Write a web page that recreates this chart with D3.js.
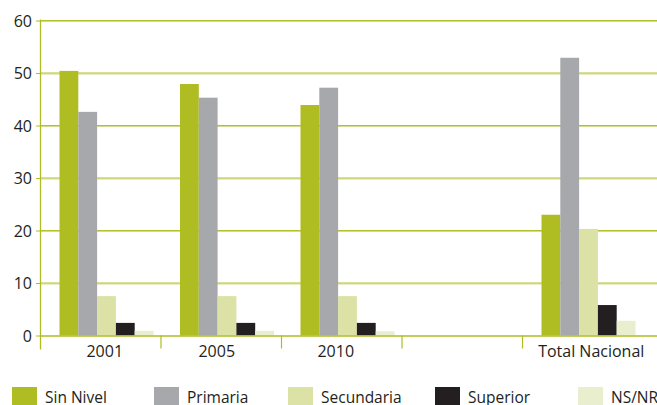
<!DOCTYPE html>
<html>
<head>
<meta charset="utf-8">
<script src="https://cdn.jsdelivr.net/npm/d3@7"></script>
<style>
  body { margin: 0; background: #fff; }
  svg text { font-family: "Open Sans", "Noto Sans", sans-serif; fill: #231f20; }
</style>
</head>
<body>
<div id="chart"></div>
<script>
const categories = ['2001', '2005', '2010', '', 'Total Nacional'];
const series = ['Sin Nivel', 'Primaria', 'Secundaria', 'Superior', 'NS/NR'];
const colors = ['#afbd22', '#a7a8ab', '#dce2a6', '#231f20', '#e9eecf'];
// values per category, in series order (empty category has no bars)
const values = [
  [50.4, 42.6, 7.5, 2.4, 0.9],
  [47.9, 45.3, 7.5, 2.4, 0.9],
  [43.9, 47.2, 7.5, 2.4, 0.8],
  [],
  [23.0, 52.9, 20.3, 5.8, 2.8]
];
const yTicks = [0, 10, 20, 30, 40, 50, 60];

const W = 657, H = 405;
const plotLeft = 40, plotTop = 20.5, plotBottom = 335.5;
// the original's category labels sit a little off the band centres
const labelShift = [4.5, -4, -5.5, 0, 9];

const svg = d3.select('#chart').append('svg')
  .attr('width', W).attr('height', H);

const x = d3.scaleBand().domain(categories.map((c, i) => i)).range([plotLeft, plotLeft + 5 * 120.5]);
const x1 = d3.scaleBand().domain(series).range([0, 94]);
const y = d3.scaleLinear().domain([0, 60]).range([plotBottom, plotTop]);

// gridlines (double line: dark green with light green underneath)
const grid = svg.append('g');
grid.selectAll('line.light').data(yTicks.filter(d => d > 0)).join('line')
  .attr('class', 'light')
  .attr('x1', plotLeft).attr('x2', W)
  .attr('y1', d => y(d) + 1).attr('y2', d => y(d) + 1)
  .attr('stroke', '#d3dc8c').attr('stroke-width', 1);
grid.selectAll('line.dark').data(yTicks.filter(d => d > 0)).join('line')
  .attr('class', 'dark')
  .attr('x1', plotLeft).attr('x2', W)
  .attr('y1', d => y(d)).attr('y2', d => y(d))
  .attr('stroke', '#b3c22c').attr('stroke-width', 1.2);

// bars
const groups = svg.append('g').selectAll('g').data(values).join('g')
  .attr('transform', (d, i) => `translate(${x(i) + 19.5},0)`);
groups.selectAll('rect').data(d => d.map((v, j) => ({ v, s: series[j], c: colors[j] }))).join('rect')
  .attr('x', d => x1(d.s))
  .attr('width', x1.bandwidth())
  .attr('y', d => y(d.v))
  .attr('height', d => y(0) - y(d.v))
  .attr('fill', d => d.c);

// y axis
const yAxis = svg.append('g').attr('transform', `translate(${plotLeft},0)`)
  .call(d3.axisLeft(y).tickValues(yTicks).tickSize(4).tickPadding(5));
yAxis.select('.domain').remove();
yAxis.selectAll('.tick line').attr('stroke', '#afbd22');
yAxis.selectAll('.tick text').attr('font-size', 16).attr('dy', '0.35em').attr('x', -8);
svg.append('line').attr('x1', plotLeft + 0.5).attr('x2', plotLeft + 0.5)
  .attr('y1', plotTop - 1).attr('y2', plotBottom + 14)
  .attr('stroke', '#afbd22').attr('stroke-width', 1.3);

// x axis
svg.append('line').attr('x1', plotLeft).attr('x2', W)
  .attr('y1', plotBottom + 0.5).attr('y2', plotBottom + 0.5)
  .attr('stroke', '#afbd22').attr('stroke-width', 1.3);
svg.append('g').selectAll('line').data(categories.slice(1).map((c, i) => i + 1)).join('line')
  .attr('x1', d => x(d) + 0.5).attr('x2', d => x(d) + 0.5)
  .attr('y1', plotBottom).attr('y2', plotBottom + 13)
  .attr('stroke', '#afbd22').attr('stroke-width', 1.2);
svg.append('g').selectAll('text').data(categories).join('text')
  .attr('x', (d, i) => x(i) + x.bandwidth() / 2 + labelShift[i])
  .attr('y', 357)
  .attr('text-anchor', 'middle')
  .attr('font-size', 16)
  .text(d => d);

// legend
const legendX = [12, 154, 288, 435, 578];
const legend = svg.append('g').selectAll('g').data(series).join('g')
  .attr('transform', (d, i) => `translate(${legendX[i]},387)`);
legend.append('rect').attr('width', 25).attr('height', 20).attr('fill', (d, i) => colors[i]);
legend.append('text').attr('x', 33).attr('y', 15.5).attr('font-size', 15.5).text(d => d);
</script>
</body>
</html>
